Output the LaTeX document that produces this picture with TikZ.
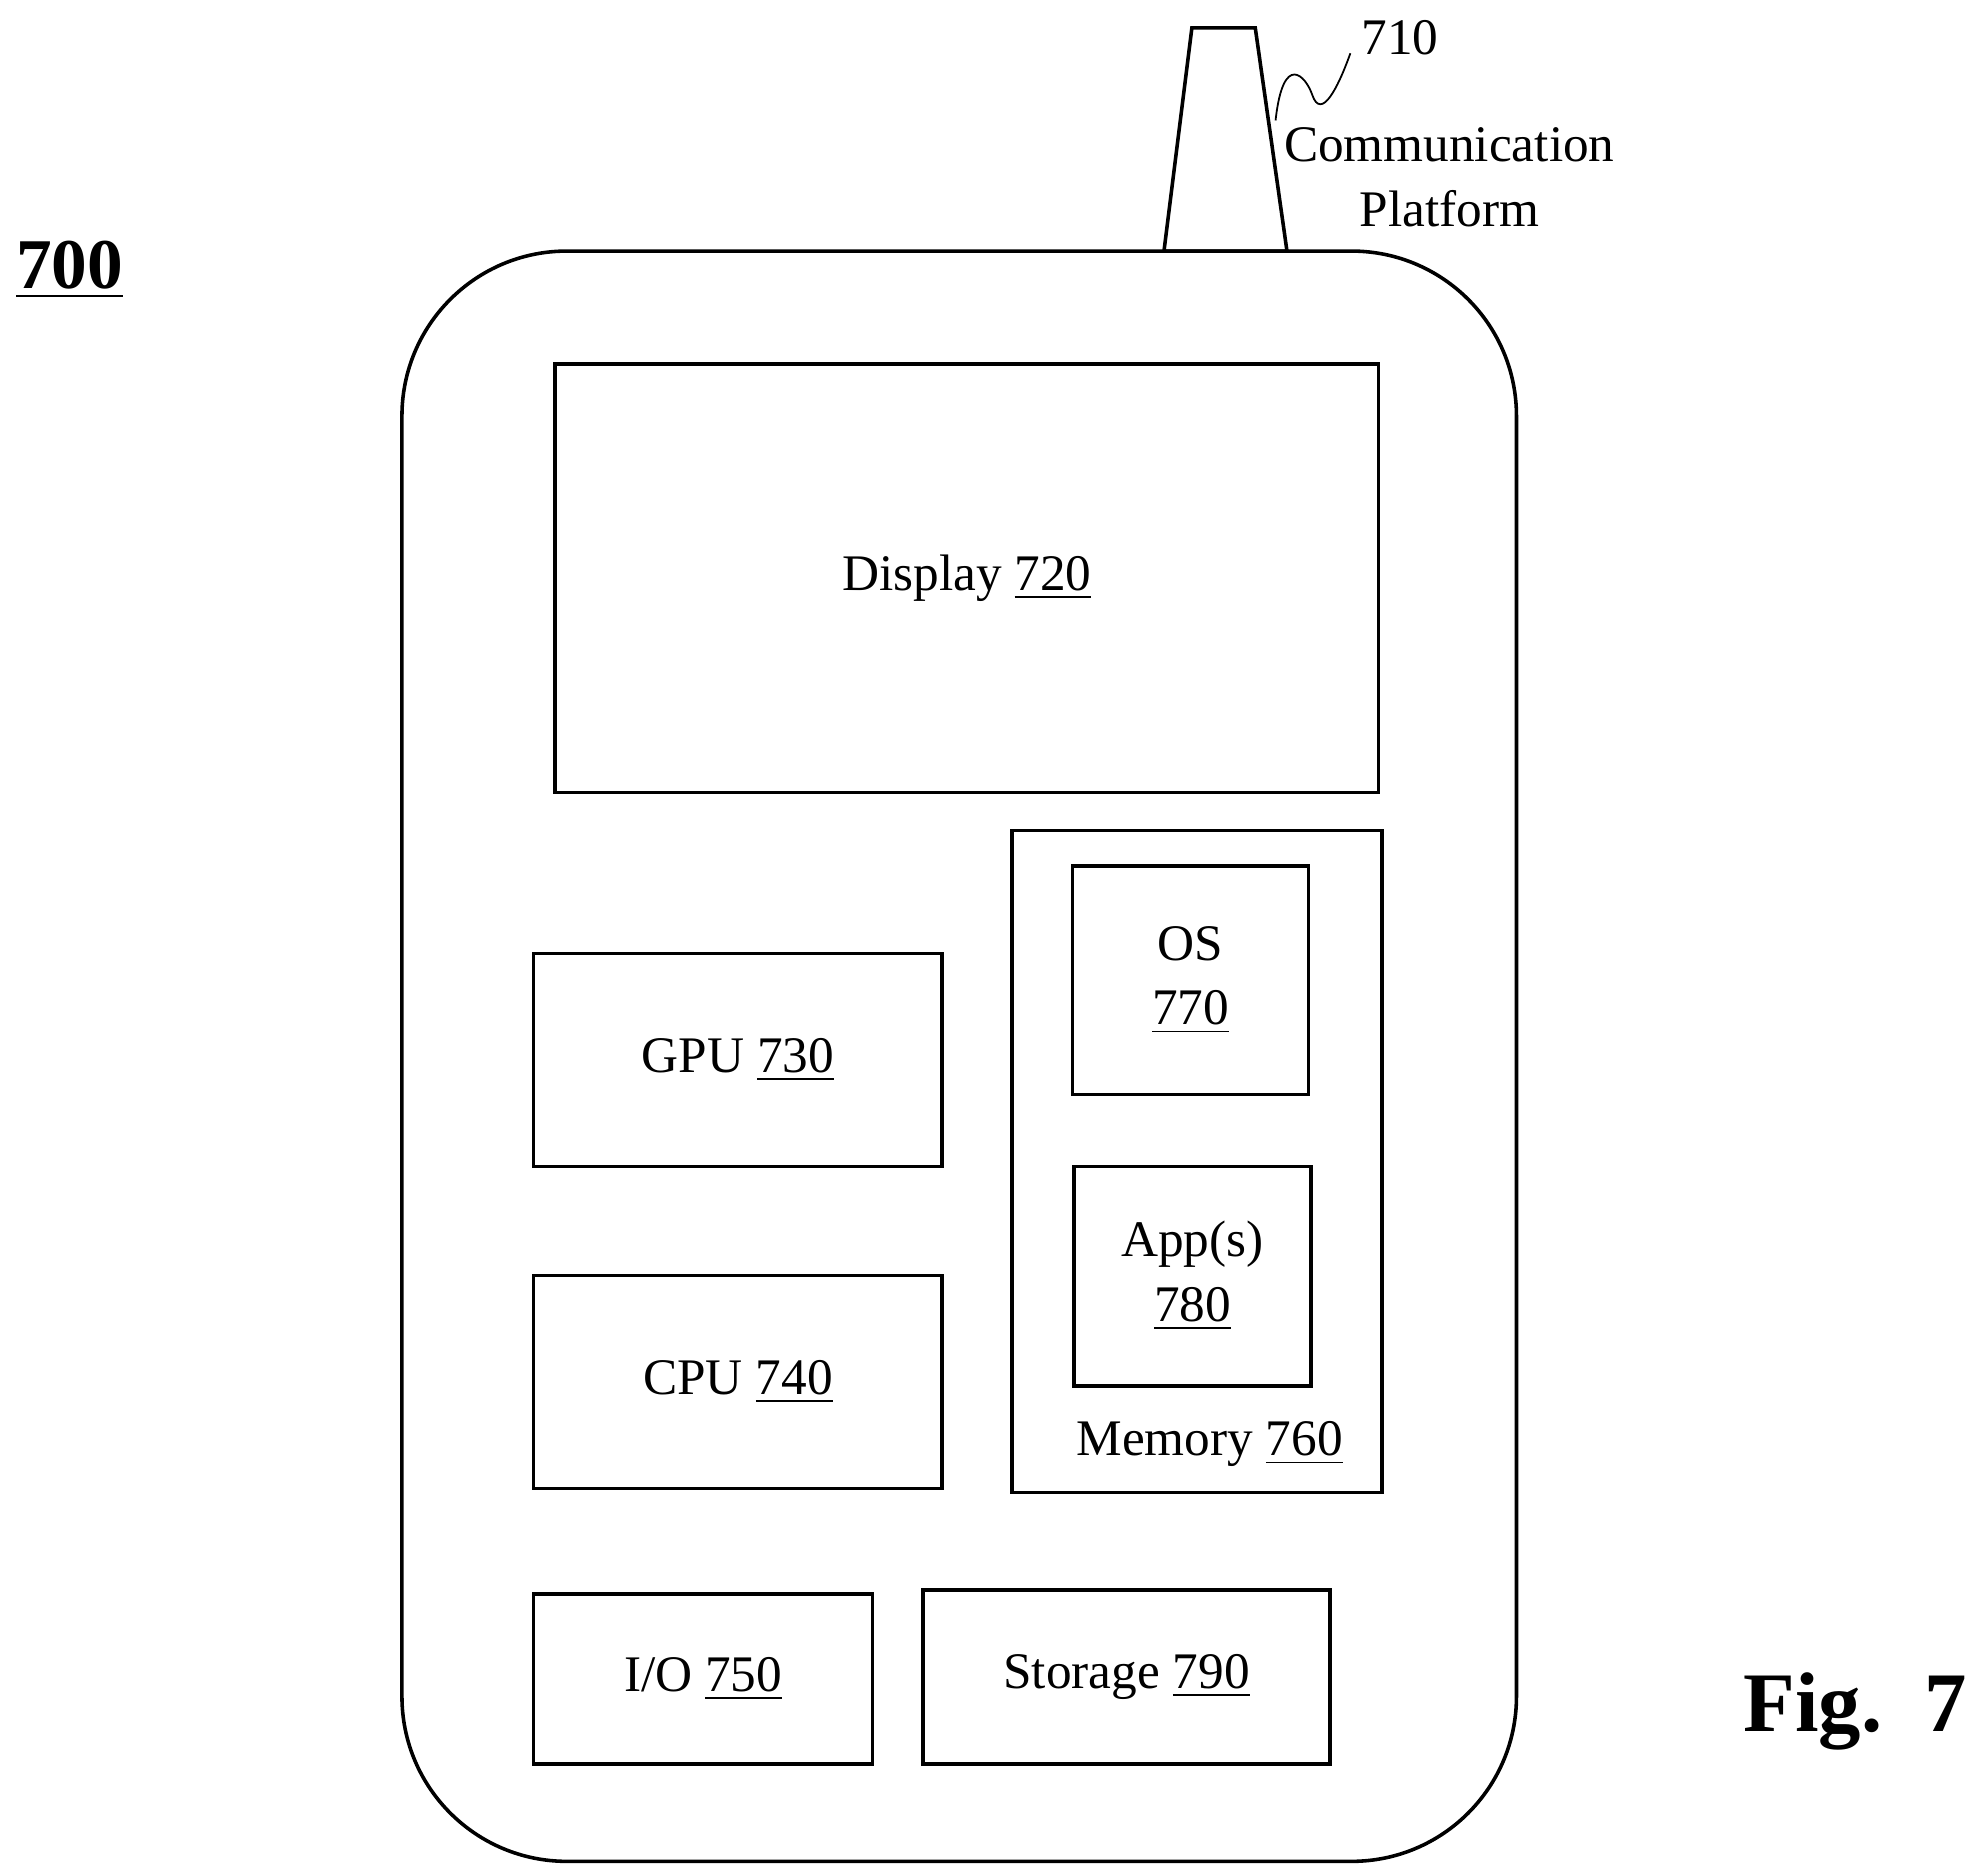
\documentclass[tikz,border=0pt]{standalone}
\usepackage{fontspec}
\setmainfont{Liberation Serif}
\usetikzlibrary{positioning}
\tikzset{
  box/.style={draw=black, thick, inner sep=0pt, align=center, font=\fontsize{11.5}{14.5}\selectfont},
  lbl/.style={inner sep=0pt, align=center, font=\fontsize{11.5}{14.5}\selectfont},
}
\begin{document}
\begin{tikzpicture}[x=0.01cm,y=-0.01cm]
            \useasboundingbox (0,0) rectangle (1560,1478);
            % body and antenna
            \draw[thick, rounded corners=1.3cm] (317,198) rectangle (1196,1468);
            \draw[thick] (918,198) -- (940,22) -- (990,22) -- (1015,198) -- cycle;
            \coordinate (sq1) at (1006,95);
            \coordinate (sq2) at (1065,42);
            \draw (sq1) .. controls (1012,40) and (1030,60) .. (1035,75) .. controls (1042,95) and (1055,70) .. (sq2);
            \node[lbl, anchor=west] (n710) at (1073,30) {710};
            \node[lbl] (comm) at (1143,140) {Communication\\Platform};
            \node[lbl, font=\fontsize{16}{19}\selectfont\bfseries] (n700) at (55,213) {\underline{700}};
            \node[lbl, anchor=east, font=\fontsize{19}{23}\selectfont\bfseries] (fig) at (1552,1350) {Fig.\ \ 7};

            % components
            \node[box, minimum width=6.49cm, minimum height=3.38cm] (display) at (762.5,456) {Display \underline{720}};
            \node[box, minimum width=2.92cm, minimum height=5.22cm] (memory) at (944,916) {};
            \node[lbl] (memlbl) at (954,1139) {Memory \underline{760}};
            \node[box, minimum width=1.86cm, minimum height=1.80cm] (os) at (939,773) {OS\\\underline{770}};
            \node[box, minimum width=1.87cm, minimum height=1.73cm] (apps) at (940.5,1006.5) {App(s)\\\underline{780}};
            \node[box, minimum width=3.22cm, minimum height=1.68cm] (gpu) at (582,836) {GPU \underline{730}};
            \node[box, minimum width=3.22cm, minimum height=1.68cm] (cpu) at (582,1090) {CPU \underline{740}};
            \node[box, minimum width=2.67cm, minimum height=1.34cm] (io) at (554.5,1324) {I/O \underline{750}};
            \node[box, minimum width=3.21cm, minimum height=1.37cm] (storage) at (888.5,1322.5) {Storage \underline{790}};
\end{tikzpicture}
\end{document}
